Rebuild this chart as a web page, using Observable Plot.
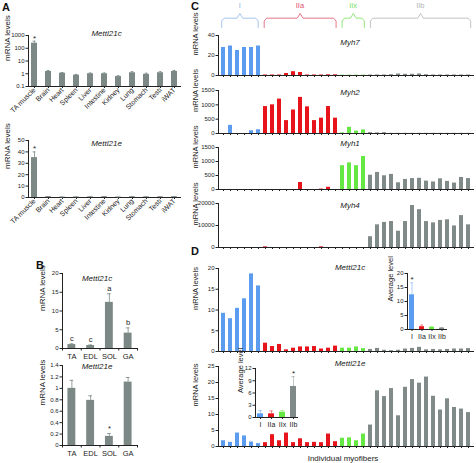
<!DOCTYPE html>
<html><head><meta charset="utf-8">
<script src="https://cdn.jsdelivr.net/npm/d3@7"></script>
<script src="https://cdn.jsdelivr.net/npm/@observablehq/plot@0.6"></script>
<style>
body{margin:0;background:#fff;}
#fig{position:relative;width:476px;height:463px;overflow:hidden;font-family:"Liberation Sans",Arial,sans-serif;background:#fff;}
.lbl{position:absolute;font-weight:bold;font-size:11px;line-height:11px;color:#111;font-family:"Liberation Sans",Arial,sans-serif;}
</style></head><body><div id="fig"></div>
<script>
// ---------- data ----------
const tissues = ["TA muscle","Brain","Heart","Spleen","Liver","Intestine","Kidney","Lung","Stomach","Testi","iWAT"];
const aMettl21c    = [250,1.5,1.1,0.77,1.0,1.0,0.6,1.2,0.9,1.2,1.5];
const aMettl21cErr = [110,0.3,0.15,0.12,0.15,0.15,0.1,0.25,0.2,0.25,0.3];
const aMettl21e    = [35,0.6,0.3,0.4,0.5,0.6,0.3,0.6,0.5,0.5,0.6];
const aMettl21eErr = [5,0.2,0.1,0.2,0.2,0.2,0.1,0.2,0.2,0.2,0.2];

const muscles = ["TA","EDL","SOL","GA"];
const bMettl21c    = [1.05,0.8,12.3,4.1];
const bMettl21cErr = [0.2,0.15,2.3,1.4];
const bMettl21cSig = ["c","c","a","b"];
const bMettl21e    = [1.0,0.79,0.16,1.11];
const bMettl21eErr = [0.14,0.08,0.05,0.08];
const bMettl21eSig = ["","","*",""];

const fiberTypes  = ["I","IIa","IIx","IIb"];
const fiberCounts = [6,11,4,15];
const myh7 = [28,29.5,25,28,28,29.5, 0.5,0.5,0.5,2,3.8,3,0.5,0.5,0.5,0.7,0.7, 0.3,0.3,0.3,0.3, 0.5,0.5,0.5,0.8,1.5,1.2,1.2,1.5,0.8,0.5,0.5,0.5,0.5,0.5,0.5];
const myh2 = [0,285,0,0,95,130, 940,1000,1200,450,820,1260,930,450,535,940,535, 20,215,85,125, 30,20,30,5,5,5,5,5,5,5,5,5,5,5,5];
const myh1 = [0,0,0,0,0,0, 0,0,0,0,0,250,0,0,15,80,0, 850,950,850,1180, 510,610,490,540,240,360,390,400,300,270,380,290,230,430,390];
const myh4 = [0,0,0,0,0,0, 300,0,0,0,0,0,0,0,300,0,0, 0,0,0,0, 4900,10300,11400,11800,7400,11800,19100,17200,11800,11200,12300,12600,9800,14500,10300];
const dMettl21c = [9.2,7.9,10.4,12.7,18.7,15.8, 2.0,1.2,1.7,0.4,0.8,1.1,1.1,1.2,0.6,0.8,1.3, 0.8,0.8,1.1,0.7, 0.5,0.75,0.3,0.2,0.3,0.6,0.75,1.0,0.4,0.5,0.4,0.5,0.6,0.6,0.7];
const dMettl21e = [1.8,1.3,4.2,3.3,1.4,0.9, 1.2,3.7,1.8,4.2,1.2,2.4,1.2,1.3,1.2,3.9,1.5, 2.6,2.7,1.8,3.9, 6.7,17.4,15.6,18.1,9.6,18.5,20.9,19.8,21.7,15.7,11.4,14.9,12.2,11.7,10.6];
const avgMettl21c    = [12.4,1.0,0.8,0.5];
const avgMettl21cErr = [4.3,0.6,0.2,0.2];
const avgMettl21e    = [0.9,0.9,1.3,7.6];
const avgMettl21eErr = [0.8,0.7,0.4,2.4];

// ---------- styles ----------
const W = 476, H = 463;
const FONT = "'Liberation Sans', Arial, sans-serif";
const GRAYA = "#7b8886";
const fiberColors = ["#5b9cf0","#e8141c","#66e844","#7f8a89"];
const bracketColors = ["#8cb6e6","#e0506a","#78e05a","#b4b4b4"];
const fig = document.getElementById("fig");
const fmt = d => String(+(+d).toFixed(2));

function place(x0, x1, y0, y1) {
  return {width: W, height: H, marginLeft: x0, marginRight: W - x1, marginTop: y0, marginBottom: H - y1,
    style: `position:absolute;left:0;top:0;background:transparent;overflow:visible;font-family:${FONT};font-size:6px;color:#222;`};
}
function add(opts) { fig.appendChild(Plot.plot(opts)); }
function letter(ch, left, top) {
  const d = document.createElement("div"); d.className = "lbl"; d.textContent = ch;
  d.style.left = left + "px"; d.style.top = top + "px"; fig.appendChild(d);
}
const ylab = (txt, dx, size = 8) => Plot.text([txt], {text: d => d, frameAnchor: "left", rotate: -90, dx, fontSize: size, lineAnchor: "middle", fill: "#222"});
const title = (txt, dx, dy, size) => Plot.text([txt], {text: d => d, frameAnchor: "top", dx, dy, fontSize: size, fontStyle: "italic", lineAnchor: "middle", fill: "#222"});

// ---------- Panel A ----------
function panelA(vals, errs, y0, y1, yopts, titleTxt, titleDy) {
  const data = tissues.map((t, i) => ({t, v: vals[i], e: errs[i]}));
  const log = yopts.type === "log";
  add({...place(28, 180, y0, y1),
    x: {type: "band", domain: tissues, paddingInner: 0.58, paddingOuter: 0.1, tickSize: 2, tickFormat: () => "", line: true, label: null},
    y: {tickFormat: fmt, ...yopts, tickSize: 2.5, tickPadding: 1.5, line: true, label: null},
    marks: [
      Plot.ruleX(data, {x: "t", y1: "v", y2: d => d.v + d.e, stroke: GRAYA, strokeWidth: 0.8}),
      Plot.tickY(data, {x: "t", y: d => d.v + d.e, stroke: GRAYA, strokeWidth: 0.8, insetLeft: 1.5, insetRight: 1.5}),
      Plot.barY(data, {x: "t", y1: () => log ? 0.1 : 0, y2: "v", fill: GRAYA}),
      Plot.text(data.slice(0, 1), {x: "t", y: d => d.v + d.e, text: () => "*", dy: -3, fontSize: 8, fill: "#222"}),
      Plot.text(data, {x: "t", text: "t", frameAnchor: "bottom", rotate: -45, textAnchor: "end", dy: 4, dx: 1.5, fontSize: 7, fill: "#222"}),
      title(titleTxt, 2, titleDy, 8),
      ylab("mRNA levels", -21)
    ]});
}
panelA(aMettl21c, aMettl21cErr, 35, 86, {type: "log", domain: [0.1, 1000], ticks: [0.1, 1, 10, 100, 1000]}, "Mettl21c", -2);
panelA(aMettl21e, aMettl21eErr, 140, 197, {domain: [0, 50], ticks: [0, 10, 20, 30, 40, 50]}, "Mettl21e", 3);

// ---------- Panel B ----------
function panelB(vals, errs, sig, y0, y1, yopts, titleTxt, titleDy) {
  const data = muscles.map((m, i) => ({m, i, v: vals[i], e: errs[i], s: sig[i]}));
  add({...place(62, 137, y0, y1),
    x: {domain: [0, 4], ticks: [0, 1, 2, 3, 4], tickFormat: () => "", tickSize: 2.5, line: true, label: null},
    y: {tickFormat: fmt, ...yopts, tickSize: 2.5, tickPadding: 1.5, line: true, label: null},
    marks: [
      Plot.ruleX(data, {x: d => d.i + 0.5, y1: "v", y2: d => d.v + d.e, stroke: GRAYA, strokeWidth: 0.8}),
      Plot.ruleY(data, {y: d => d.v + d.e, x1: d => d.i + 0.4, x2: d => d.i + 0.6, stroke: GRAYA, strokeWidth: 0.8}),
      Plot.rectY(data, {x1: d => d.i + 0.29, x2: d => d.i + 0.71, y1: () => 0, y2: "v", fill: GRAYA}),
      Plot.text(data, {x: d => d.i + 0.5, y: d => d.v + d.e, text: "s", dy: -5, fontSize: 7.5, fill: "#222"}),
      Plot.text(data, {x: d => d.i + 0.5, text: "m", frameAnchor: "bottom", dy: 8, fontSize: 7.5, lineAnchor: "middle", fill: "#222"}),
      title(titleTxt, -3, titleDy, 8),
      ylab("mRNA levels", -20)
    ]});
}
panelB(bMettl21c, bMettl21cErr, bMettl21cSig, 273, 348, {domain: [0, 20], ticks: [0, 5, 10, 15, 20]}, "Mettl21c", 5);
panelB(bMettl21e, bMettl21eErr, bMettl21eSig, 365, 445, {domain: [0, 1.4], ticks: [0, 0.2, 0.4, 0.6, 0.8, 1, 1.2, 1.4]}, "Mettl21e", 1);

// ---------- Panels C & D ----------
const fiberType = fiberTypes.flatMap((t, k) => Array(fiberCounts[k]).fill(t));
function fiberPlot(vals, y0, y1, yopts, titleTxt, titleDy, extra = []) {
  const data = vals.map((v, i) => ({i, v, t: fiberType[i]}));
  add({...place(218, 473, y0, y1),
    x: {type: "band", domain: d3.range(fiberType.length), paddingInner: 0.5, paddingOuter: 0.25, tickSize: 2, tickFormat: () => "", line: true, label: null},
    y: {tickFormat: fmt, ...yopts, tickSize: 2.5, tickPadding: 1.5, line: true, label: null},
    color: {type: "ordinal", domain: fiberTypes, range: fiberColors},
    marks: [
      Plot.barY(data, {x: "i", y1: () => 0, y2: "v", fill: "t"}),
      title(titleTxt, 4, titleDy, 8),
      ylab("mRNA levels", -23, 7.5),
      ...extra
    ]});
}
fiberPlot(myh7, 35, 75, {domain: [0, 40], ticks: [0, 20, 40]}, "Myh7", 7);
fiberPlot(myh2, 90, 133, {domain: [0, 1500], ticks: [0, 500, 1000, 1500]}, "Myh2", 2);
fiberPlot(myh1, 147, 189, {domain: [0, 1500], ticks: [0, 500, 1000, 1500]}, "Myh1", -4);
fiberPlot(myh4, 203, 247, {domain: [0, 20000], ticks: [0, 10000, 20000]}, "Myh4", 2);
fiberPlot(dMettl21c, 268, 351, {domain: [0, 20], ticks: [0, 5, 10, 15, 20]}, "Mettl21c", -1);
fiberPlot(dMettl21e, 366, 446, {domain: [0, 25], ticks: [0, 5, 10, 15, 20, 25]}, "Mettl21e", -3,
  [Plot.text(["Individual myofibers"], {text: d => d, frameAnchor: "bottom", dy: 12, dx: -3, fontSize: 8, lineAnchor: "middle", fill: "#222"})]);

// brackets above panel C
const groups = []; { let s = 0; fiberTypes.forEach((t, k) => { groups.push({t, s, e: s + fiberCounts[k]}); s += fiberCounts[k]; }); }
const bracketPts = groups.flatMap(g => {
  const a = g.s + 0.45, b = g.e - 0.4, m = (a + b) / 2;
  return [[a, 0], [a, 0.7], [a + 0.35, 1], [m - 0.4, 1], [m, 1.5], [m + 0.4, 1], [b - 0.35, 1], [b, 0.7], [b, 0]]
    .map(([x, y]) => ({x, y, t: g.t}));
});
add({...place(218, 473, 13, 27),
  x: {domain: [0, fiberType.length], axis: null},
  y: {domain: [0, 1.5], axis: null},
  color: {type: "ordinal", domain: fiberTypes, range: bracketColors},
  marks: [
    Plot.line(bracketPts, {x: "x", y: "y", z: "t", stroke: "t", strokeWidth: 0.8}),
    Plot.text(groups, {x: g => (g.s + g.e) / 2, y: () => 1.5, dy: -8, text: "t", fill: "t", fontSize: 7.5, lineAnchor: "middle"})
  ]});

// insets
function inset(vals, errs, starIdx, x0, x1, y0, y1, yopts, labDx) {
  const data = fiberTypes.map((t, i) => ({t, v: vals[i], e: errs[i]}));
  add({...place(x0, x1, y0, y1),
    x: {type: "band", domain: fiberTypes, paddingInner: 0.5, paddingOuter: 0.12, tickSize: 2, tickFormat: () => "", line: true, label: null},
    y: {tickFormat: fmt, ...yopts, tickSize: 2.5, tickPadding: 1.5, line: true, label: null},
    color: {type: "ordinal", domain: fiberTypes, range: fiberColors},
    marks: [
      Plot.ruleX(data, {x: "t", y1: "v", y2: d => d.v + d.e, stroke: "t", strokeOpacity: 0.6, strokeWidth: 0.8}),
      Plot.tickY(data, {x: "t", y: d => d.v + d.e, stroke: "t", strokeOpacity: 0.6, strokeWidth: 0.8, insetLeft: 1.2, insetRight: 1.2}),
      Plot.barY(data, {x: "t", y1: () => 0, y2: "v", fill: "t"}),
      Plot.text(data.filter((d, i) => i === starIdx), {x: "t", y: d => d.v + d.e, text: () => "*", dy: -3, fontSize: 8, fill: "#222"}),
      Plot.text(data, {x: "t", text: "t", frameAnchor: "bottom", dy: 7, fontSize: 7, lineAnchor: "middle", fill: "#222"}),
      ylab("Average level", labDx, 7.5)
    ]});
}
inset(avgMettl21c, avgMettl21cErr, 0, 407, 446, 273, 329, {domain: [0, 20], ticks: [0, 5, 10, 15, 20]}, -17);
inset(avgMettl21e, avgMettl21eErr, 3, 255, 297, 368, 417, {domain: [0, 12], ticks: [0, 3, 6, 9, 12]}, -15);

// panel letters
letter("A", 2, 2);
letter("B", 36, 260);
letter("C", 191, 1);
letter("D", 191, 246);
</script></body></html>
